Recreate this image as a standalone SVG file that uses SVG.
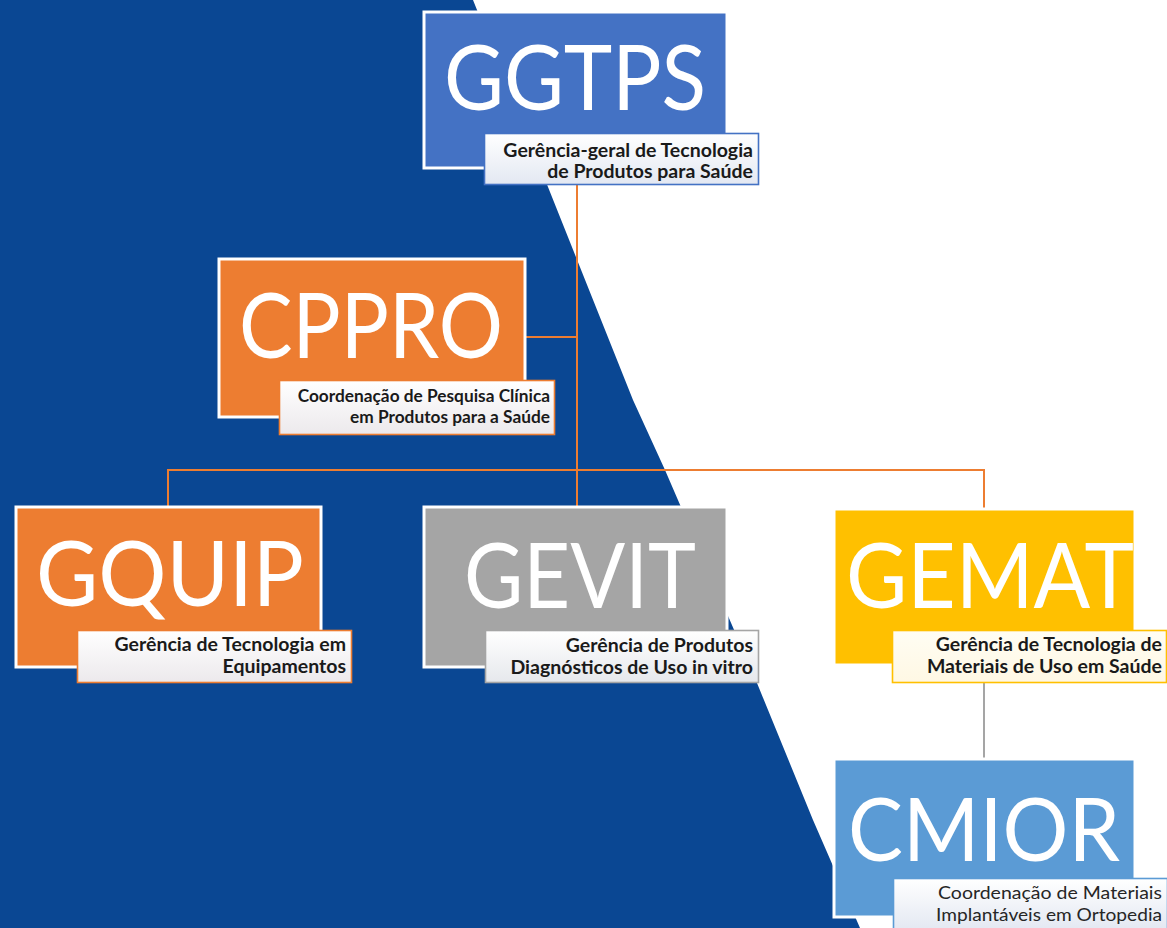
<svg xmlns="http://www.w3.org/2000/svg" width="1167" height="928" viewBox="0 0 1167 928">
  <defs>
    <style>
      .box { stroke: #ffffff; stroke-width: 3; }
      .abbr { font-family: Lato, "Open Sans", sans-serif; font-size: 92px; fill: #ffffff; text-anchor: middle; }
      .abbr.tight { font-size: 88px; }
      .desc { font-family: Lato, "Open Sans", sans-serif; font-size: 19.5px; font-weight: bold; fill: #1a1a1a; text-anchor: end; }
      .desc.small { font-size: 17.3px; }
      .desc.light { font-weight: normal; fill: #262626; font-size: 17.5px; }
      .lab { stroke-width: 1.6; }
      .link { fill: none; stroke-width: 2; }
      .orange { stroke: #ed7d31; }
      .grey { stroke: #a5a5a5; }
    </style>
    <linearGradient id="gBlue" x1="0" y1="0" x2="0" y2="1">
      <stop offset="0" stop-color="#ffffff"/>
      <stop offset="1" stop-color="#e3e8f2"/>
    </linearGradient>
    <linearGradient id="gOrange" x1="0" y1="0" x2="0" y2="1">
      <stop offset="0" stop-color="#ffffff"/>
      <stop offset="1" stop-color="#ece9ec"/>
    </linearGradient>
    <linearGradient id="gGrey" x1="0" y1="0" x2="0" y2="1">
      <stop offset="0" stop-color="#ffffff"/>
      <stop offset="1" stop-color="#e6e8ec"/>
    </linearGradient>
    <linearGradient id="gYellow" x1="0" y1="0" x2="0" y2="1">
      <stop offset="0" stop-color="#fffdf3"/>
      <stop offset="1" stop-color="#fff8e4"/>
    </linearGradient>
  </defs>

  <!-- backdrop: white page with a dark blue diagonal band on the left -->
  <rect x="0" y="0" width="1167" height="928" fill="#ffffff"/>
  <polygon points="0,0 473,0 548,187 633,400 665,470 757,683 813,820 860,928 0,928" fill="#0a4793"/>

  <!-- connectors -->
  <g id="connectors">
    <path class="link orange" d="M577,185 V506"/>
    <path class="link orange" d="M525,337 H577"/>
    <path class="link orange" d="M168,506 V470 H984 V509"/>
    <path class="link grey" d="M984,683 V758"/>
  </g>

  <g id="node-ggtps">
    <rect class="box" x="424" y="12" width="303" height="156" fill="#4472c4"/>
    <text class="abbr" x="575" y="110" textLength="262" lengthAdjust="spacingAndGlyphs">GGTPS</text>
    <rect class="lab" x="484.5" y="133.5" width="274" height="51" fill="url(#gBlue)" stroke="#4472c4"/>
    <text class="desc" x="753" y="157">Gerência-geral de Tecnologia</text>
    <text class="desc" x="753" y="178">de Produtos para Saúde</text>
  </g>

  <g id="node-cppro">
    <rect class="box" x="219" y="259" width="306" height="158" fill="#ed7d31"/>
    <text class="abbr" x="371" y="358" textLength="264" lengthAdjust="spacingAndGlyphs">CPPRO</text>
    <rect class="lab" x="279.5" y="380.5" width="275" height="54" fill="url(#gOrange)" stroke="#ed7d31"/>
    <text class="desc small" x="550" y="402">Coordenação de Pesquisa Clínica</text>
    <text class="desc small" x="550" y="423">em Produtos para a Saúde</text>
  </g>

  <g id="node-gquip">
    <rect class="box" x="16" y="507" width="305" height="160" fill="#ed7d31"/>
    <text class="abbr" x="170" y="606" textLength="268" lengthAdjust="spacingAndGlyphs">GQUIP</text>
    <rect class="lab" x="77.5" y="630.5" width="274" height="52" fill="url(#gOrange)" stroke="#ed7d31"/>
    <text class="desc" x="346" y="651">Gerência de Tecnologia em</text>
    <text class="desc" x="346" y="673">Equipamentos</text>
  </g>

  <g id="node-gevit">
    <rect class="box" x="424" y="507" width="303" height="160" fill="#a5a5a5"/>
    <text class="abbr" x="580" y="608" textLength="232" lengthAdjust="spacingAndGlyphs">GEVIT</text>
    <rect class="lab" x="485.5" y="630.5" width="273" height="52" fill="url(#gGrey)" stroke="#a5a5a5"/>
    <text class="desc" x="753" y="652">Gerência de Produtos</text>
    <text class="desc" x="753" y="674">Diagnósticos de Uso in vitro</text>
  </g>

  <g id="node-gemat">
    <rect class="box" x="834" y="509" width="301" height="156" fill="#ffc000"/>
    <text class="abbr" x="990" y="608" textLength="288" lengthAdjust="spacingAndGlyphs">GEMAT</text>
    <rect class="lab" x="892.5" y="630.5" width="274" height="52" fill="url(#gYellow)" stroke="#ffc000"/>
    <text class="desc" x="1162" y="651">Gerência de Tecnologia de</text>
    <text class="desc" x="1162" y="673">Materiais de Uso em Saúde</text>
  </g>

  <g id="node-cmior">
    <rect class="box" x="834" y="759" width="301" height="158" fill="#5b9bd5"/>
    <text class="abbr tight" x="984" y="861" textLength="272" lengthAdjust="spacingAndGlyphs">CMIOR</text>
    <rect class="lab" x="893.5" y="878.5" width="274" height="52" fill="url(#gBlue)" stroke="#5b9bd5"/>
    <text class="desc light" x="1162" y="899" textLength="224" lengthAdjust="spacingAndGlyphs">Coordenação de Materiais</text>
    <text class="desc light" x="1162" y="921" textLength="226" lengthAdjust="spacingAndGlyphs">Implantáveis em Ortopedia</text>
  </g>
</svg>
